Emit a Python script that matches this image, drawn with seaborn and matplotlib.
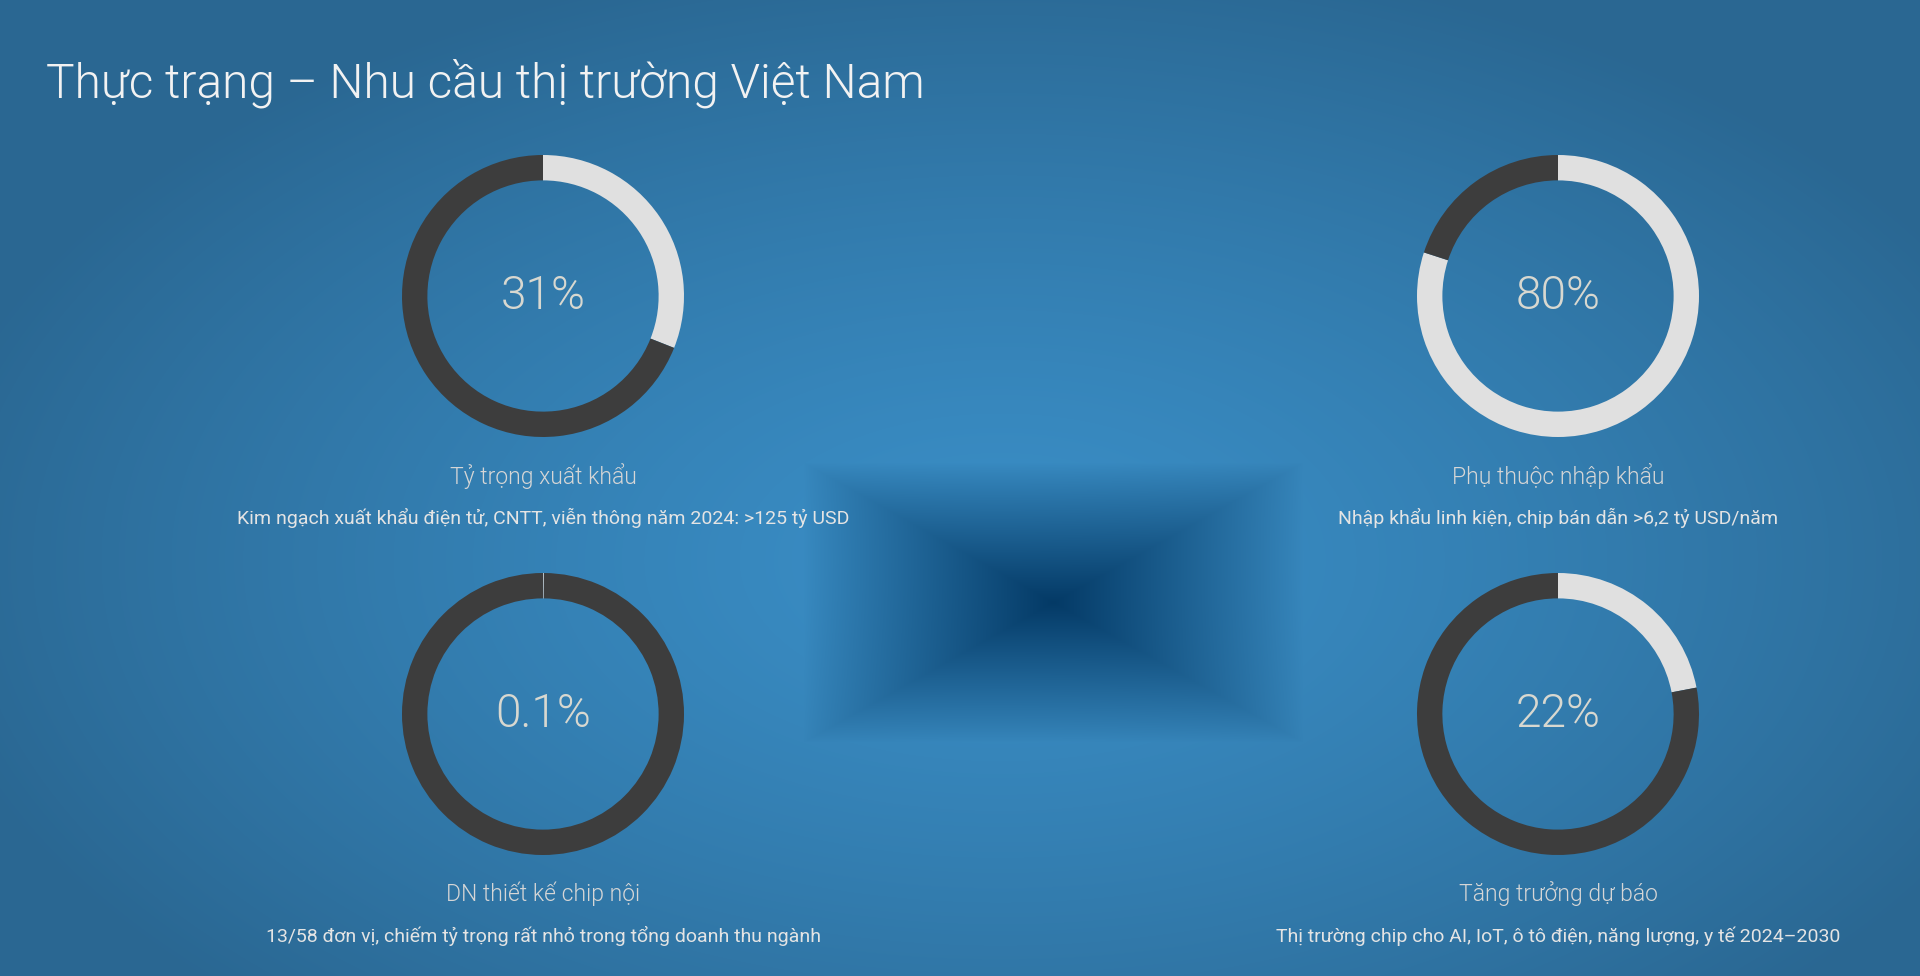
import numpy as np
import matplotlib
matplotlib.use("Agg")
import matplotlib.pyplot as plt
import seaborn as sns
from matplotlib.colors import to_rgb

# ---- data ----
title = "Thực trạng – Nhu cầu thị trường Việt Nam"
values = [31, 80, 0.1, 22]
value_labels = ["31%", "80%", "0.1%", "22%"]
labels = ["Tỷ trọng xuất khẩu", "Phụ thuộc nhập khẩu", "DN thiết kế chip nội", "Tăng trưởng dự báo"]
notes = [
    "Kim ngạch xuất khẩu điện tử, CNTT, viễn thông năm 2024: >125 tỷ USD",
    "Nhập khẩu linh kiện, chip bán dẫn >6,2 tỷ USD/năm",
    "13/58 đơn vị, chiếm tỷ trọng rất nhỏ trong tổng doanh thu ngành",
    "Thị trường chip cho AI, IoT, ô tô điện, năng lượng, y tế 2024–2030",
]

sns.set_theme(style="white")
plt.rcParams['font.family'] = ['Roboto', 'DejaVu Sans']

W, H = 1920, 976
fig = plt.figure(figsize=(W / 100, H / 100), dpi=100)

# ---- background ----
bg = fig.add_axes([0, 0, 1, 1])
yy, xx = np.mgrid[0:H, 0:W].astype(float)
c_center = np.array(to_rgb("#3a8ec6"))
c_edge = np.array(to_rgb("#2a6792"))
d = np.sqrt(((xx - 1000) / 1100) ** 2 + ((yy - 560) / 620) ** 2)
t = np.clip(d, 0, 1)[..., None] ** 1.3
img = c_center * (1 - t) + c_edge * t
# dark rectangular "tunnel"
rx = np.abs(xx - 1053) / 250
ry = np.abs(yy - 602) / 140
r = np.maximum(rx, ry)
k = np.clip(1 - r, 0, 1)[..., None] ** 0.9
c_dark = np.array(to_rgb("#043a66"))
img = img * (1 - k) + c_dark * k
bg.imshow(img, extent=[0, W, H, 0], aspect="auto", interpolation="bilinear")
bg.set_xlim(0, W)
bg.set_ylim(H, 0)
bg.axis("off")

bg.text(46, 83, title, fontsize=34.5, fontweight=300, color="#f2f2f2",
        va="center", ha="left")

light = "#e0e0e0"
dark = "#3d3d3d"
centers = [(543, 296), (1558, 296), (543, 714), (1558, 714)]
R = 141
half = 160
for (cx, cy), v, vl, lab, note in zip(centers, values, value_labels, labels, notes):
    ax = fig.add_axes([(cx - half) / W, 1 - (cy + half) / H, 2 * half / W, 2 * half / H])
    ax.pie([v, 100 - v], colors=[light, dark], startangle=90, counterclock=False,
           radius=1.0, wedgeprops=dict(width=0.18, edgecolor="none", linewidth=0))
    lim = half / R
    ax.set_xlim(-lim, lim)
    ax.set_ylim(-lim, lim)
    ax.set_aspect("equal")
    ax.axis("off")
    ax.text(0, 0, vl, fontsize=33, fontweight=300, color="#d8d8d0",
            ha="center", va="center")
    bg.text(cx, cy + 180, lab, fontsize=16.5, fontweight=300, color="#d6d6d6",
            ha="center", va="center")
    bg.text(cx, cy + 222, note, fontsize=14, fontweight="normal", color="#e4e4e4",
            ha="center", va="center")

fig.savefig("out.png", dpi=100)
